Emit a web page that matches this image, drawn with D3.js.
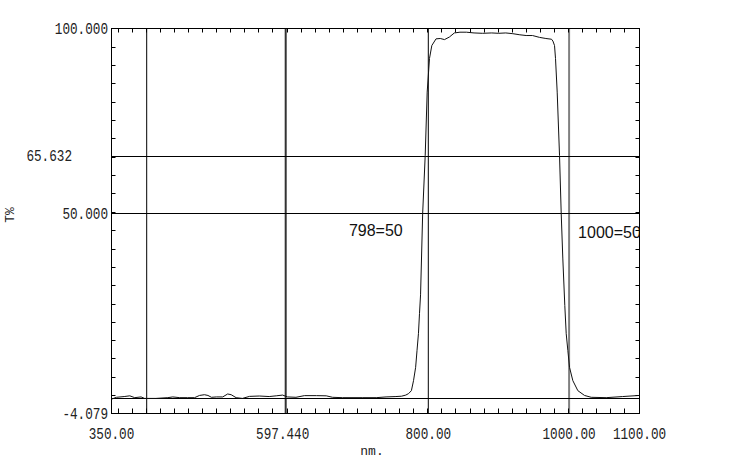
<!DOCTYPE html>
<html>
<head>
<meta charset="utf-8">
<script src="https://cdn.jsdelivr.net/npm/d3@7"></script>
<style>
  body { margin: 0; background: #fff; }
  svg { display: block; }
  .mono { font-family: "Liberation Mono", "DejaVu Sans Mono", monospace; font-size: 16px; fill: #222; }
  .note { font-family: "Liberation Sans", Arial, sans-serif; font-size: 16px; fill: #111; }
</style>
</head>
<body>
<svg id="chart" width="750" height="461"></svg>
<script>
// spectrum
const wavelength = [350, 357, 368, 376, 383, 392, 397, 413, 430, 437, 447, 458, 468, 475, 482, 487, 492, 499, 508, 515, 520, 527, 536, 546, 560, 574, 584, 593, 600, 612, 624, 641, 655, 664, 678, 707, 726, 740, 754, 762, 768, 772, 776, 779, 782, 784, 786, 787.5, 789, 792, 795.6, 798.4, 801.7, 805, 811, 817, 823, 830, 837, 845, 854, 865, 877, 890, 900, 910, 920, 930, 939, 948, 958, 967, 975, 977, 979.3, 980.7, 983.1, 986.4, 988.8, 991.1, 993.9, 995.9, 998.2, 1000.6, 1005.3, 1012.4, 1021.9, 1031.4, 1052.7, 1075.9, 1100]
const transmit = [-0.2, 0.3, 0.5, 0.7, 0.2, 0.4, 0.0, 0.0, 0.2, 0.4, 0.2, 0.2, 0.2, 0.8, 1.0, 0.8, 0.3, 0.4, 0.4, 1.2, 1.0, 0.2, 0.0, 0.55, 0.65, 0.5, 0.7, 0.9, 0.4, 0.3, 0.75, 0.75, 0.7, 0.3, 0.2, 0.2, 0.2, 0.4, 0.5, 0.6, 0.9, 1.3, 2.1, 4.8, 8.4, 13, 17.5, 23, 28, 50, 65.6, 82.8, 91.9, 95.4, 97.2, 97.3, 97.0, 97.7, 98.8, 99.0, 99.0, 98.8, 98.7, 98.8, 98.7, 98.8, 98.6, 98.3, 98.1, 98.1, 97.6, 97.3, 97.1, 96.6, 95.4, 91.9, 82.8, 65.7, 50, 37.7, 25.1, 17.5, 13, 8.4, 4.8, 2.1, 0.8, 0.3, 0.2, 0.5, 0.8]

const xDomain = [350, 1100]
const yDomain = [-4.079, 100]
const xTickValues = [350, 800, 1000, 1100]
const xTickLabels = ["350.00", "800.00", "1000.00", "1100.00"]
const yTickValues = [100, 50, -4.079]
const yTickLabels = ["100.000", "50.000", "-4.079"]
const xCursor = [597.44], xCursorLabels = ["597.440"]
const yCursor = [65.632], yCursorLabels = ["65.632"]
const xGrid = [400, 597.44, 800, 1000]
const yGrid = [65.632, 50, 0]
const minorX = d3.range(360, 1100, 20)
const notes = [{x: 798, label: "798=50"}, {x: 1000, label: "1000=50"}]

var margin = {left: 111.5, right: 639.5, top: 28.5, bottom: 413.5}
var svg = d3.select('#chart')

var x = d3.scaleLinear().domain(xDomain).range([margin.left, margin.right])
var y = d3.scaleLinear().domain(yDomain).range([margin.bottom, margin.top])

svg.append('clipPath').attr('id', 'plot')
    .append('rect')
    .attr('x', margin.left).attr('y', margin.top)
    .attr('width', margin.right - margin.left).attr('height', margin.bottom - margin.top)

// grid
svg.append('g').selectAll('line').data(xGrid).join('line')
    .attr('x1', d => x(d)).attr('x2', d => x(d))
    .attr('y1', margin.top).attr('y2', margin.bottom)
    .attr('stroke', d => d == 1000 ? '#808080' : (d == 597.44 ? '#333' : '#000'))
    .attr('stroke-width', d => (d == 1000 || d == 597.44) ? 2 : 1)
svg.append('g').selectAll('line').data(yGrid).join('line')
    .attr('y1', d => Math.round(y(d)) + 0.5).attr('y2', d => Math.round(y(d)) + 0.5)
    .attr('x1', margin.left).attr('x2', margin.right)
    .attr('stroke', '#000')

// minor ticks on all four sides
var ticks = svg.append('g').attr('stroke', '#000')
minorX.forEach(function(d) {
    var px = Math.round(x(d)) - 0.5
    ticks.append('line').attr('x1', px).attr('x2', px).attr('y1', margin.bottom).attr('y2', margin.bottom - 5)
    ticks.append('line').attr('x1', px).attr('x2', px).attr('y1', margin.top).attr('y2', margin.top + 4)
})
d3.range(1, 21).forEach(function(k) {
    var py = Math.round(y(100 - k * (yDomain[1] - yDomain[0]) / 21)) + 0.5
    ticks.append('line').attr('y1', py).attr('y2', py).attr('x1', margin.left).attr('x2', margin.left + 4)
    ticks.append('line').attr('y1', py).attr('y2', py).attr('x1', margin.right).attr('x2', margin.right - 4)
})

// curve
var data = wavelength.map((w, i) => ({w: w, t: transmit[i]}))
svg.append('path')
    .datum(data)
    .attr('clip-path', 'url(#plot)')
    .attr('fill', 'none')
    .attr('stroke', '#111')
    .attr('stroke-width', 1)
    .attr('stroke-linejoin', 'round')
    .attr('d', d3.line().x(d => x(d.w)).y(d => y(d.t)))

// frame
svg.append('rect')
    .attr('x', margin.left).attr('y', margin.top)
    .attr('width', margin.right - margin.left).attr('height', margin.bottom - margin.top)
    .attr('fill', 'none').attr('stroke', '#000')

// axis labels
function fit(t) {
    var n = t.text().length
    t.attr('textLength', n * 7.6).attr('lengthAdjust', 'spacingAndGlyphs')
}
svg.append('g').selectAll('text').data(yTickValues).join('text')
    .attr('class', 'mono')
    .attr('x', 108).attr('y', d => y(d))
    .attr('dy', '0.35em').attr('text-anchor', 'end')
    .text((d, i) => yTickLabels[i])
    .each(function() { fit(d3.select(this)) })
svg.append('g').selectAll('text').data(yCursor).join('text')
    .attr('class', 'mono')
    .attr('x', 72).attr('y', d => y(d))
    .attr('dy', '0.35em').attr('text-anchor', 'end')
    .text((d, i) => yCursorLabels[i])
    .each(function() { fit(d3.select(this)) })
svg.append('g').selectAll('text').data(xTickValues).join('text')
    .attr('class', 'mono')
    .attr('x', d => x(d)).attr('y', 439)
    .attr('text-anchor', 'middle')
    .text((d, i) => xTickLabels[i])
    .each(function() { fit(d3.select(this)) })
svg.append('g').selectAll('text').data(xCursor).join('text')
    .attr('class', 'mono')
    .attr('x', d => x(d) - 3).attr('y', 439)
    .attr('text-anchor', 'middle')
    .text((d, i) => xCursorLabels[i])
    .each(function() { fit(d3.select(this)) })

svg.append('text').attr('class', 'mono')
    .attr('x', 372).attr('y', 455).attr('text-anchor', 'middle')
    .style('font-size', '13px')
    .text('nm.')
svg.append('text').attr('class', 'mono')
    .attr('transform', 'translate(14,215) rotate(-90)')
    .attr('text-anchor', 'middle')
    .style('font-size', '13px')
    .text('T%')

// edge readouts
svg.append('g').attr('clip-path', 'url(#plot)')
    .selectAll('text').data(notes).join('text')
    .attr('class', 'note')
    .attr('x', (d, i) => i == 0 ? x(d.x) - 78 : x(d.x) + 9)
    .attr('y', (d, i) => i == 0 ? 236 : 238)
    .text(d => d.label)
</script>
</body>
</html>
